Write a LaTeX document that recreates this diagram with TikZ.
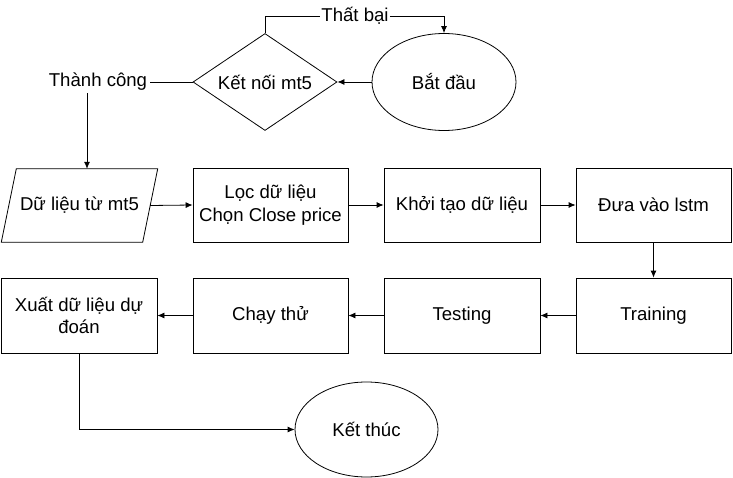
\documentclass[tikz,border=0pt]{standalone}
\usepackage{fontspec}
\setmainfont{Liberation Sans}
\usetikzlibrary{shapes.geometric,arrows.meta,calc}
\begin{document}
\begin{tikzpicture}[x=1pt,y=-1pt,
  every node/.style={font=\fontsize{18.6}{22.5}\selectfont, inner sep=0pt},
  box/.style={draw, line width=0.8pt, minimum width=155pt, minimum height=74pt, align=center},
  oval/.style={draw, line width=0.8pt, ellipse, minimum width=144pt, minimum height=97pt},
  dec/.style={draw, line width=0.8pt, diamond, aspect=1.48, minimum width=144pt, minimum height=97pt},
  lbl/.style={fill=white, inner sep=1pt},
  conn/.style={line width=0.8pt, -{Latex[length=7pt,width=6pt]}},
  plain/.style={line width=0.8pt}]
\useasboundingbox (0,0) rectangle (733,478);
% top row
\node[oval] (start) at (444,82) {Bắt đầu};
\node[dec] (ket) at (265,82) {Kết nối mt5};
\node[lbl] (fail) at (355,16) {Thất bại};
\node[lbl, inner sep=2.5pt] (tc) at (98,82) {Thành công};
% second row
\node[minimum width=141pt, minimum height=73pt] (data) at (79.5,205.5) {Dữ liệu từ mt5};
\draw[line width=0.8pt] ($(data.south west)+(-7.5,0)$) -- ($(data.north west)+(7.5,0)$)
  -- ($(data.north east)+(7.5,0)$) -- ($(data.south east)+(-7.5,0)$) -- cycle;
\coordinate (dtop) at ($(data.north)+(7.5,0)$);
\node[box] (loc) at (270.5,205) {Lọc dữ liệu\\Chọn Close price};
\node[box, minimum width=156pt] (khoi) at (462,205) {Khởi tạo dữ liệu};
\node[box] (dua) at (653.5,205) {Đưa vào lstm};
% third row
\node[box, minimum width=156pt, minimum height=75pt] (xuat) at (79,315.5) {Xuất dữ liệu dự\\đoán};
\node[box, minimum height=75pt] (chay) at (270.5,315.5) {Chạy thử};
\node[box, minimum width=156pt, minimum height=75pt] (test) at (462,315.5) {Testing};
\node[box, minimum height=75pt] (train) at (653.5,315.5) {Training};
% end
\node[oval, minimum width=143pt, minimum height=95pt] (end) at (366.5,429.5) {Kết thúc};
% connectors
\draw[conn] (start.west) -- (ket.east);
\draw[plain] (ket.north) |- (fail.west);
\draw[conn] (fail.east) -| (start.north);
\draw[plain] (ket.west) -- (tc.east);
\draw[conn] (tc.south -| dtop) -- (dtop);
\draw[conn] (data.east) -- (loc.west);
\draw[conn] (loc.east) -- (khoi.west);
\draw[conn] (khoi.east) -- (dua.west);
\draw[conn] (dua.south) -- (train.north);
\draw[conn] (train.west) -- (test.east);
\draw[conn] (test.west) -- (chay.east);
\draw[conn] (chay.west) -- (xuat.east);
\draw[conn] (xuat.south) |- (end.west);
\end{tikzpicture}
\end{document}
